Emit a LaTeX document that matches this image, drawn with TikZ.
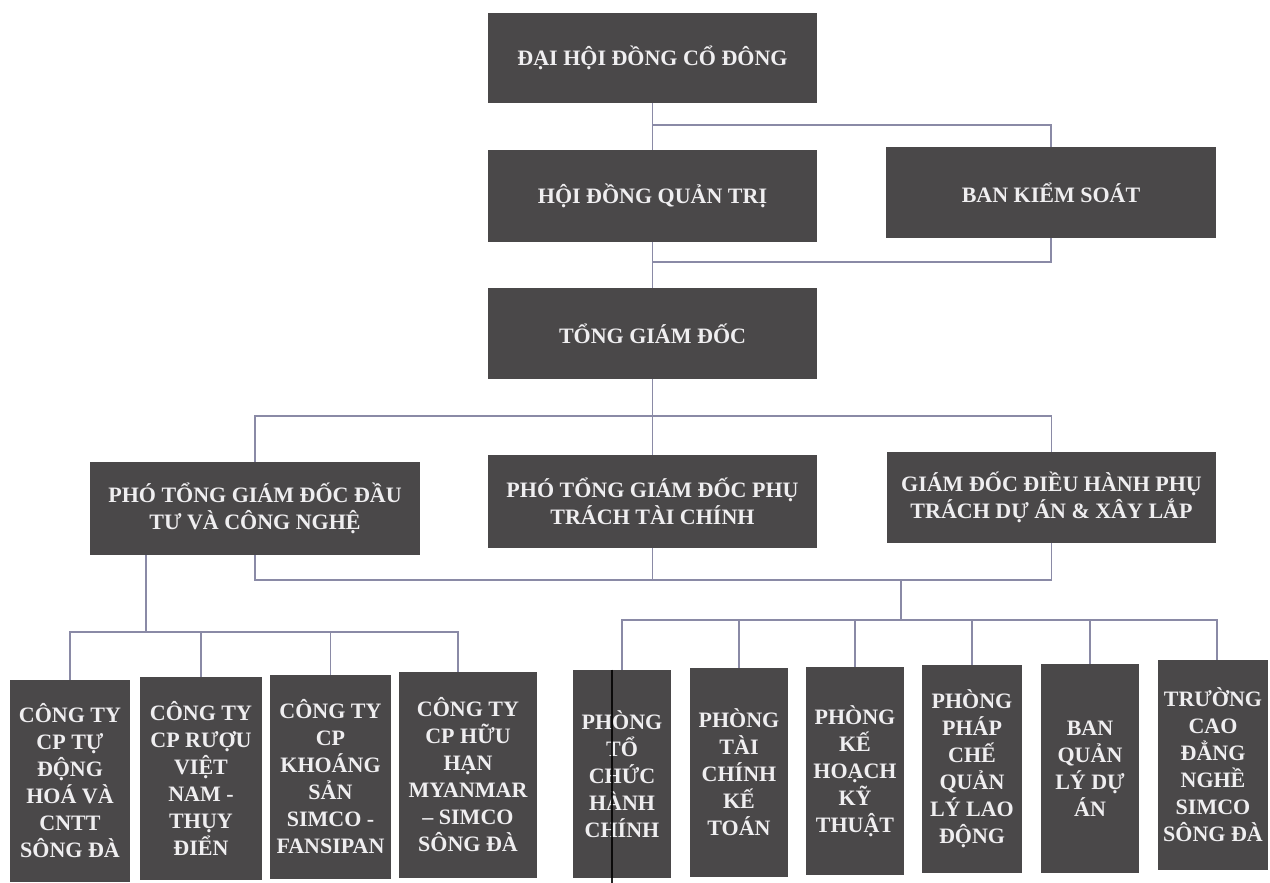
\documentclass[tikz,border=0pt]{standalone}
\usepackage{fontspec}
\setmainfont{Liberation Serif}
\usetikzlibrary{calc}
\definecolor{boxgray}{HTML}{4A4849}
\definecolor{linec}{HTML}{8A8AA6}
\definecolor{txt}{HTML}{EFEEF0}
\tikzset{
  orgbox/.style={rectangle, fill=boxgray, text=txt, font=\bfseries\fontsize{11}{13.5}\selectfont, align=center, inner sep=0pt},
  conn/.style={draw=linec, line width=0.6pt},
}
\begin{document}
\begin{tikzpicture}[x=0.5pt,y=-0.5pt]
\useasboundingbox (0,0) rectangle (1270,883);
\fill[white] (0,0) rectangle (1270,883);

% connector junction coordinates
\coordinate (j1) at (652.5,125);
\coordinate (j2) at (652.5,262);
\coordinate (j3) at (652.5,416);
\coordinate (j4) at (652.5,580);
\coordinate (j5) at (901,580);
\coordinate (j6) at (901,620);
\coordinate (k1) at (146,632);

% upper level nodes
\node[orgbox, minimum width=164.5pt, minimum height=45pt] (dh) at (652.5,58) {ĐẠI HỘI ĐỒNG CỔ ĐÔNG};
\node[orgbox, minimum width=164.5pt, minimum height=46pt] (hd) at (652.5,196) {HỘI ĐỒNG QUẢN TRỊ};
\node[orgbox, minimum width=165pt, minimum height=45.5pt] (bks) at (1051,192.5) {BAN KIỂM SOÁT};
\node[orgbox, minimum width=164.5pt, minimum height=45.5pt] (tgd) at (652.5,333.5) {TỔNG GIÁM ĐỐC};
\node[orgbox, minimum width=165pt, minimum height=46.5pt] (p1) at (255,508.5) {PHÓ TỔNG GIÁM ĐỐC ĐẦU\\TƯ VÀ CÔNG NGHỆ};
\node[orgbox, minimum width=164.5pt, minimum height=46.5pt] (p2) at (652.5,501.5) {PHÓ TỔNG GIÁM ĐỐC PHỤ\\TRÁCH TÀI CHÍNH};
\node[orgbox, minimum width=164.5pt, minimum height=45.5pt] (p3) at (1051.5,497.5) {GIÁM ĐỐC ĐIỀU HÀNH PHỤ\\TRÁCH DỰ ÁN \& XÂY LẮP};

% lower left group
\node[orgbox, minimum width=60pt, minimum height=101pt] (c1) at (70,781) {CÔNG TY\\CP TỰ\\ĐỘNG\\HOÁ VÀ\\CNTT\\SÔNG ĐÀ};
\node[orgbox, minimum width=61pt, minimum height=101.5pt] (c2) at (201,778.5) {CÔNG TY\\CP RƯỢU\\VIỆT\\NAM -\\THỤY\\ĐIỂN};
\node[orgbox, minimum width=60.5pt, minimum height=102pt] (c3) at (330.5,777) {CÔNG TY\\CP\\KHOÁNG\\SẢN\\SIMCO -\\FANSIPAN};
\node[orgbox, minimum width=69pt, minimum height=103pt] (c4) at (468,775) {CÔNG TY\\CP HỮU\\HẠN\\MYANMAR\\– SIMCO\\SÔNG ĐÀ};

% lower right group
\node[orgbox, minimum width=49pt, minimum height=104pt] (r1) at (622,774) {PHÒNG\\TỔ\\CHỨC\\HÀNH\\CHÍNH};
\node[orgbox, minimum width=49pt, minimum height=104.5pt] (r2) at (739,772.5) {PHÒNG\\TÀI\\CHÍNH\\KẾ\\TOÁN};
\node[orgbox, minimum width=49pt, minimum height=104pt] (r3) at (855,771) {PHÒNG\\KẾ\\HOẠCH\\KỸ\\THUẬT};
\node[orgbox, minimum width=50pt, minimum height=104pt] (r4) at (972,769) {PHÒNG\\PHÁP\\CHẾ\\QUẢN\\LÝ LAO\\ĐỘNG};
\node[orgbox, minimum width=49pt, minimum height=104.5pt] (r5) at (1090,768.5) {BAN\\QUẢN\\LÝ DỰ\\ÁN};
\node[orgbox, minimum width=55pt, minimum height=105pt] (r6) at (1213,765) {TRƯỜNG\\CAO\\ĐẲNG\\NGHỀ\\SIMCO\\SÔNG ĐÀ};

% scan streak across r1
\draw[black, line width=1pt, opacity=0.85] ([xshift=-5pt]r1.north) -- ([xshift=-5pt]r1.south) -- ++(0,5);

% connectors
\draw[conn] (dh.south) -- (hd.north);
\draw[conn] (j1) -| (bks.north);
\draw[conn] (bks.south) |- (j2);
\draw[conn] (hd.south) -- (tgd.north);
\draw[conn] (tgd.south) -- (p2.north);
\draw[conn] (p1.north) |- (j3) -| (p3.north);
\draw[conn] (p1.south) |- (p3.south |- j4) -- (p3.south);
\draw[conn] (p2.south) -- (j4);
\draw[conn] (j5) -- (j6);
\draw[conn] (p1.south -| k1) -- (k1);
\draw[conn] (c1.north) |- ([xshift=-5pt]c4.north |- k1) -- ([xshift=-5pt]c4.north);
\draw[conn] (c2.north) -- (c2.north |- k1);
\draw[conn] (c3.north) -- (c3.north |- k1);
\draw[conn] (r1.north) |- (j6) -| ([xshift=2pt]r6.north);
\foreach \r in {r2,r3,r4,r5} { \draw[conn] (\r.north) -- (\r.north |- j6); }
\end{tikzpicture}
\end{document}
